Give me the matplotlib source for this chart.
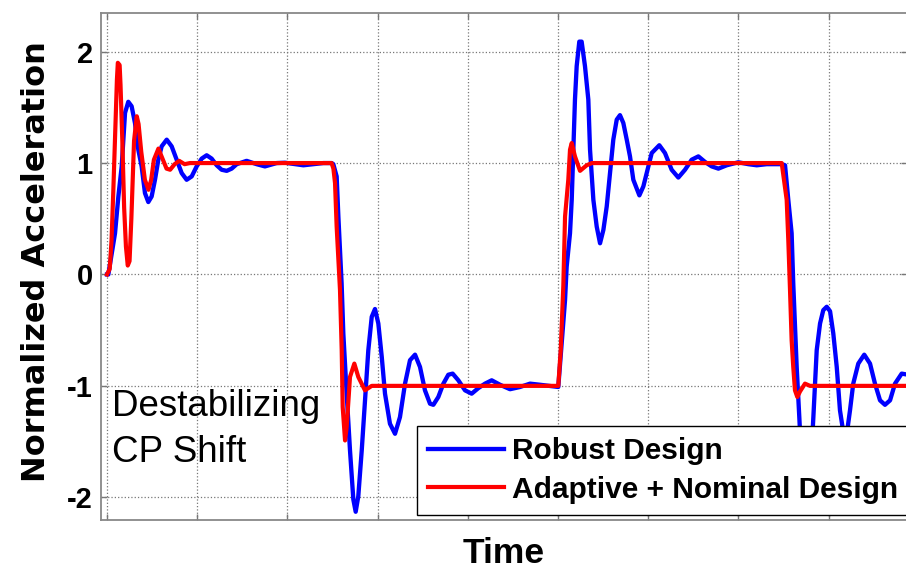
import matplotlib
matplotlib.use("Agg")
import matplotlib.pyplot as plt

plt.rcParams['axes.unicode_minus'] = False
plt.rcParams['font.family'] = ['Liberation Sans', 'DejaVu Sans']

# ---- data (time in grid units, normalized acceleration) ----
robust_t = [0.0, 0.015, 0.089, 0.126, 0.163, 0.181, 0.200, 0.236, 0.273, 0.310, 0.347, 0.384,
            0.421, 0.458, 0.495, 0.532, 0.569, 0.606, 0.662, 0.717, 0.772, 0.828, 0.883, 0.939,
            0.994, 1.050, 1.105, 1.160, 1.216, 1.271, 1.327, 1.382, 1.438, 1.548, 1.659, 1.751,
            1.881, 1.973, 2.177, 2.399, 2.491,
            2.509, 2.546, 2.565, 2.601, 2.620, 2.657, 2.694, 2.731, 2.757, 2.786, 2.824, 2.860,
            2.897, 2.935, 2.971, 3.008, 3.046, 3.082, 3.137, 3.193, 3.248, 3.304, 3.359, 3.415,
            3.470, 3.525, 3.581, 3.618, 3.673, 3.729, 3.784, 3.832, 3.895, 3.969, 4.043, 4.117,
            4.191, 4.265, 4.357, 4.468, 4.579, 4.690, 4.800, 5.003,
            5.078, 5.096, 5.133, 5.152, 5.170, 5.188, 5.207, 5.236, 5.262, 5.299, 5.336, 5.355,
            5.392, 5.429, 5.466, 5.503, 5.540, 5.576, 5.613, 5.651, 5.687, 5.724, 5.762, 5.798,
            5.835, 5.902, 5.946, 5.983, 6.039, 6.123, 6.186, 6.260, 6.334, 6.408, 6.482, 6.556,
            6.630, 6.704, 6.778, 6.870, 6.999, 7.110, 7.203, 7.314, 7.480,
            7.517, 7.553, 7.590, 7.608, 7.646, 7.675, 7.710, 7.740, 7.765, 7.800, 7.831, 7.868,
            7.905, 7.941, 7.979, 8.016, 8.052, 8.090, 8.126, 8.160, 8.185, 8.210, 8.237, 8.273,
            8.329, 8.395, 8.459, 8.514, 8.570, 8.625, 8.681, 8.736, 8.810, 8.880, 8.950]
robust_y = [0.0, 0.0, 0.37, 0.70, 0.97, 1.21, 1.45, 1.55, 1.51, 1.36, 1.12, 0.97,
            0.73, 0.65, 0.70, 0.85, 1.03, 1.15, 1.21, 1.15, 1.03, 0.91, 0.85, 0.88,
            0.97, 1.04, 1.07, 1.04, 0.98, 0.94, 0.93, 0.95, 0.99, 1.02, 0.99, 0.97,
            1.00, 1.003, 0.98, 1.00, 1.00,
            0.99, 0.88, 0.52, -0.08, -0.53, -1.07, -1.58, -2.02, -2.13, -1.99, -1.58, -1.13,
            -0.68, -0.38, -0.31, -0.44, -0.74, -1.07, -1.34, -1.43, -1.28, -0.98, -0.77, -0.72,
            -0.83, -1.04, -1.16, -1.17, -1.10, -0.98, -0.90, -0.89, -0.95, -1.04, -1.07, -1.02,
            -0.98, -0.95, -0.99, -1.03, -1.01, -0.98, -0.99, -1.01,
            -0.23, 0.07, 0.37, 0.67, 1.12, 1.57, 1.87, 2.09, 2.09, 1.87, 1.57, 1.12,
            0.67, 0.43, 0.28, 0.40, 0.61, 0.91, 1.21, 1.39, 1.43, 1.36, 1.21, 1.06,
            0.85, 0.71, 0.79, 0.91, 1.09, 1.16, 1.09, 0.94, 0.87, 0.94, 1.03, 1.06,
            1.01, 0.97, 0.95, 0.98, 1.007, 0.99, 0.98, 0.99, 0.99,
            0.98, 0.67, 0.37, -0.08, -0.83, -1.28, -1.85, -2.10, -2.10, -1.75, -1.28, -0.68,
            -0.44, -0.32, -0.29, -0.33, -0.53, -0.83, -1.22, -1.40, -1.43, -1.38, -1.22, -0.98,
            -0.80, -0.72, -0.80, -0.98, -1.13, -1.17, -1.13, -0.98, -0.89, -0.90, -0.97]

adaptive_t = [0.0, 0.03, 0.05, 0.07, 0.09, 0.11, 0.12, 0.14, 0.15, 0.17, 0.19, 0.21, 0.23,
              0.25, 0.27, 0.30, 0.33, 0.35, 0.38, 0.42, 0.46, 0.49, 0.52, 0.57, 0.61, 0.66,
              0.70, 0.75, 0.80, 0.86, 0.92, 2.49,
              2.51, 2.528, 2.546, 2.583, 2.602, 2.613, 2.639, 2.657, 2.694, 2.742, 2.786, 2.860,
              2.935, 5.003,
              5.030, 5.059, 5.078, 5.114, 5.133, 5.152, 5.188, 5.244, 5.318, 5.374, 7.480,
              7.535, 7.553, 7.572, 7.590, 7.608, 7.627, 7.653, 7.683, 7.738, 7.794, 8.950]
adaptive_y = [0.0, 0.05, 0.30, 0.75, 1.25, 1.75, 1.90, 1.88, 1.70, 1.20, 0.60, 0.25, 0.08,
              0.12, 0.50, 1.20, 1.42, 1.35, 1.10, 0.85, 0.76, 0.85, 1.03, 1.13, 1.05, 0.95,
              0.94, 0.99, 1.02, 0.99, 1.00, 1.00,
              0.95, 0.82, 0.43, -0.14, -0.68, -1.19, -1.49, -1.37, -0.92, -0.80, -0.92, -1.04,
              -1.00, -1.00,
              -0.68, -0.10, 0.52, 0.85, 1.12, 1.18, 1.06, 0.93, 0.98, 1.00, 1.00,
              0.67, 0.31, -0.14, -0.59, -0.83, -1.04, -1.10, -1.05, -0.98, -1.00, -1.00]

y_ticks = [-2, -1, 0, 1, 2]
x_grid = [0, 1, 2, 3, 4, 5, 6, 7, 8]
labels = ["Robust Design", "Adaptive + Nominal Design"]

# ---- figure ----
W, H = 906, 569
fig = plt.figure(figsize=(W / 100, H / 100), dpi=100)
L, R, T, B = 101, 907, 13, 520
ax = fig.add_axes([L / W, 1 - B / H, (R - L) / W, (B - T) / H])

ax.plot(robust_t, robust_y, color='#0000ff', lw=3.1, label=labels[0], solid_joinstyle='round')
ax.plot(adaptive_t, adaptive_y, color='#ff0000', lw=3.0, label=labels[1], solid_joinstyle='round')

ax.set_xlim(-0.0665, 8.869)
ax.set_ylim(-2.204, 2.347)
ax.set_xticks(x_grid)
ax.set_yticks(y_ticks)
ax.set_xticklabels([])
ax.set_yticklabels([str(v) for v in y_ticks], fontsize=21, fontweight='bold')
ax.tick_params(axis='both', direction='in', length=4, color='#777777', top=True, right=True,
               width=1)
ax.tick_params(axis='y', pad=6)
ax.grid(True, linestyle=':', color='#777777', lw=0.9)
for s in ax.spines.values():
    s.set_color('#888888')
    s.set_linewidth(1.3)

ax.set_xlabel("Time", fontsize=25.5, fontweight='bold')
ax.xaxis.set_label_coords((504 - L) / (R - L), (B - 537) / (B - T))
ax.set_ylabel("Normalized Acceleration", fontsize=23, fontweight='bold',
              family=['DejaVu Sans'])
ax.yaxis.set_label_coords((52 - L) / (R - L), (B - 262) / (B - T))

ax.text(0.052, -1.27, "Destabilizing", fontsize=26.5, ha='left', va='baseline')
ax.text(0.052, -1.68, "CP Shift", fontsize=26.5, ha='left', va='baseline')

leg = ax.legend(loc='upper left', bbox_to_anchor=(416.7 / W, 1 - 425.7 / H),
                bbox_transform=fig.transFigure, borderaxespad=0, fancybox=False,
                framealpha=1, edgecolor='black', prop={'size': 21.5, 'weight': 'bold'},
                handlelength=2.55, handletextpad=0.25, borderpad=0.38, labelspacing=0.36)
leg.get_frame().set_linewidth(1.0)
leg.set_zorder(10)

fig.savefig("out.png", dpi=100)
